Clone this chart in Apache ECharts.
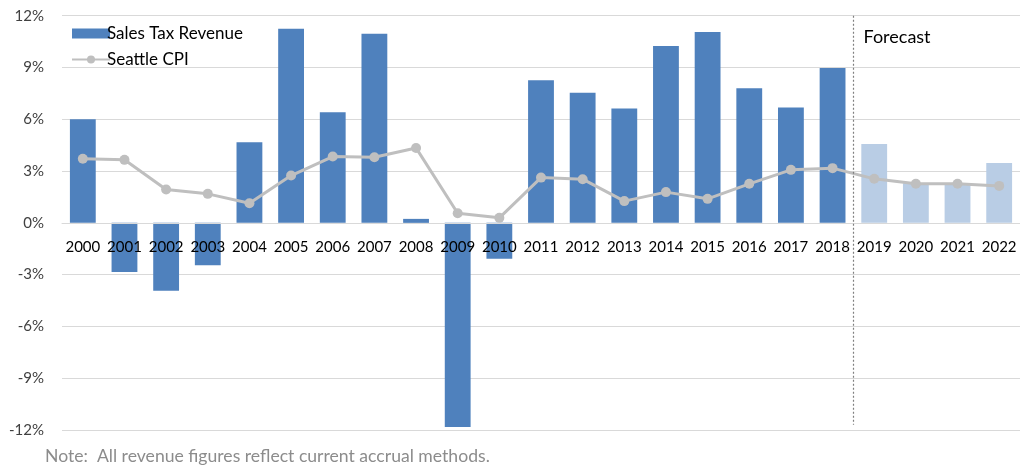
<!DOCTYPE html>
<html>
<head>
<meta charset="utf-8">
<script src="https://cdn.jsdelivr.net/npm/echarts@6/dist/echarts.min.js"></script>
<style>
  html, body { margin: 0; padding: 0; background: #fff; }
  #chart { width: 1020px; height: 466px; }
</style>
</head>
<body>
<div id="chart"></div>
<script>
var years = ['2000','2001','2002','2003','2004','2005','2006','2007','2008','2009','2010','2011',
             '2012','2013','2014','2015','2016','2017','2018','2019','2020','2021','2022'];
var salesTax = [6.0, -2.85, -3.94, -2.45, 4.67, 11.25, 6.41, 10.96, 0.23, -11.83, -2.08, 8.26,
                7.53, 6.62, 10.25, 11.06, 7.8, 6.68, 8.97, 4.57, 2.3, 2.3, 3.46];
var seattleCpi = [3.71, 3.65, 1.93, 1.68, 1.14, 2.74, 3.84, 3.8, 4.34, 0.56, 0.29, 2.62,
                  2.53, 1.26, 1.78, 1.39, 2.26, 3.07, 3.17, 2.55, 2.26, 2.26, 2.14];
var yTicks = [-12, -9, -6, -3, 0, 3, 6, 9, 12];
var firstForecast = 19; // 2019 onwards is forecast

var font = 'Lato, "Open Sans", sans-serif';
var gridBottom = 36;

var barData = [];
for (var i = 0; i < salesTax.length; i++) {
    if (i >= firstForecast) {
        barData.push({ value: salesTax[i], itemStyle: { color: '#b9cde5' } });
    } else {
        barData.push(salesTax[i]);
    }
}

var myChart = echarts.init(document.getElementById('chart'));
var option = {
    animation: false,
    textStyle: { fontFamily: font },
    grid: { left: 62, right: 0, top: 15.7, bottom: gridBottom, containLabel: false },
    legend: {
        orient: 'vertical',
        left: 66,
        top: 20,
        itemGap: 9,
        itemWidth: 38,
        itemHeight: 10,
        textStyle: { fontFamily: font, fontSize: 17, color: '#000', padding: [0, 0, 0, -8] },
        data: [
            { name: 'Sales Tax Revenue', icon: 'rect' },
            { name: 'Seattle CPI' }
        ]
    },
    xAxis: {
        type: 'category',
        data: years,
        z: 5,
        axisLine: { onZero: true, lineStyle: { color: '#d9d9d9' } },
        axisTick: { show: false },
        axisLabel: { fontFamily: font, fontSize: 15, color: '#000', margin: 14, interval: 0 }
    },
    yAxis: {
        type: 'value',
        min: yTicks[0],
        max: yTicks[yTicks.length - 1],
        interval: 3,
        axisLine: { show: false },
        axisTick: { show: false },
        splitLine: { lineStyle: { color: '#d9d9d9', width: 1 } },
        axisLabel: { fontFamily: font, fontSize: 15, color: '#404040', margin: 18, formatter: '{value}%' }
    },
    series: [
        {
            name: 'Sales Tax Revenue',
            type: 'bar',
            barWidth: '62%',
            itemStyle: { color: '#4f81bd' },
            data: barData
        },
        {
            name: 'Seattle CPI',
            type: 'line',
            symbol: 'circle',
            symbolSize: 10,
            lineStyle: { color: '#bfbfbf', width: 3 },
            itemStyle: { color: '#bfbfbf' },
            data: seattleCpi,
            z: 3
        }
    ]
};
myChart.setOption(option);

// year labels sit just under the 0% line, like the original
var zeroY = myChart.convertToPixel({ seriesIndex: 0 }, [0, 0])[1];
var bottomY = 466 - gridBottom;
myChart.setOption({ xAxis: { axisLabel: { margin: -(bottomY - zeroY) + 17 } } });

// dotted divider between actuals and forecast
var pA = myChart.convertToPixel({ seriesIndex: 0 }, [firstForecast - 1, 12]);
var pB = myChart.convertToPixel({ seriesIndex: 0 }, [firstForecast, -11.7]);
var divX = Math.round((pA[0] + pB[0]) / 2) + 0.5;
myChart.setOption({
    graphic: [
        {
            type: 'line',
            shape: { x1: divX, y1: pA[1], x2: divX, y2: pB[1] },
            style: { stroke: '#7f7f7f', lineWidth: 1.2, lineDash: [2, 2] },
            z: 10
        },
        {
            type: 'text',
            x: divX + 10,
            y: 28,
            style: { text: 'Forecast', fontFamily: font, fontSize: 18, fill: '#000' }
        },
        {
            type: 'text',
            left: 45,
            top: 447,
            style: { text: 'Note:  All revenue figures reflect current accrual methods.', fontFamily: font, fontSize: 17.6, fill: '#8c8c8c' }
        }
    ]
});
</script>
</body>
</html>
